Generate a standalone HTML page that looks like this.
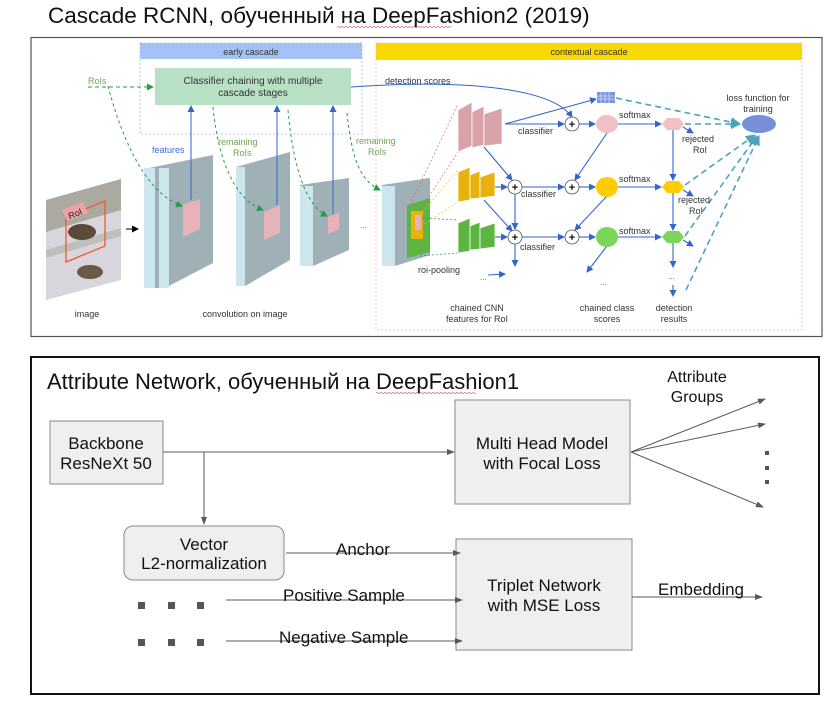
<!DOCTYPE html>
<html><head><meta charset="utf-8"><style>
html,body{margin:0;padding:0;background:#fff;}
svg{display:block;font-family:"Liberation Sans","Noto Sans CJK SC",sans-serif;}
</style></head><body>
<svg width="838" height="704" viewBox="0 0 838 704" xmlns="http://www.w3.org/2000/svg">
<defs>
<marker id="ag" markerWidth="8" markerHeight="8" refX="7" refY="4" orient="auto" markerUnits="userSpaceOnUse"><path d="M0,1 L8,4 L0,7 z" fill="#595959"/></marker>
<marker id="ab" markerWidth="7" markerHeight="7" refX="6" refY="3.5" orient="auto" markerUnits="userSpaceOnUse"><path d="M0,0 L7,3.5 L0,7 z" fill="#3366cc"/></marker>
<marker id="agr" markerWidth="7" markerHeight="7" refX="6" refY="3.5" orient="auto" markerUnits="userSpaceOnUse"><path d="M0,0 L7,3.5 L0,7 z" fill="#2a9a4a"/></marker>
<marker id="at" markerWidth="10" markerHeight="10" refX="9" refY="5" orient="auto" markerUnits="userSpaceOnUse"><path d="M0,0 L10,5 L0,10 z" fill="#4aa3c0"/></marker>
<marker id="ak" markerWidth="7" markerHeight="7" refX="6" refY="3.5" orient="auto" markerUnits="userSpaceOnUse"><path d="M0,0 L7,3.5 L0,7 z" fill="#000"/></marker>
</defs>

<text x="48" y="23" font-size="22.5" fill="#111">Cascade RCNN, обученный на DeepFashion2 (2019)</text>
<path d="M337,27 q1,-1 2,0 t2,0 t2,0 t2,0 t2,0 t2,0 t2,0 t2,0 t2,0 t2,0 t2,0 t2,0 t2,0 t2,0 t2,0 t2,0 t2,0 t2,0 t2,0 t2,0 t2,0 t2,0 t2,0 t2,0 t2,0 t2,0 t2,0 t2,0 t2,0 t2,0 t2,0 t2,0 t2,0 t2,0 t2,0 t2,0 t2,0 t2,0 t2,0 t2,0 t2,0 t2,0 t2,0 t2,0 t2,0 t2,0 t2,0 t2,0 t2,0 t2,0 t2,0 t2,0 t2,0 t2,0 t2,0 t2,0 t2,0" fill="none" stroke="#e06666" stroke-width="0.6"/>

<rect x="31" y="37.5" width="791" height="299" fill="#fff" stroke="#555" stroke-width="1.2"/>

<rect x="140" y="43" width="222" height="16" fill="#a4c2f4"/>
<rect x="140" y="43" width="222" height="91" fill="none" stroke="#a4b4f0" stroke-dasharray="2,2" stroke-width="0.8"/>
<text x="251" y="55" font-size="9" text-anchor="middle" fill="#333">early cascade</text>
<rect x="155" y="68" width="196" height="37" fill="#b8e0c4"/>
<text x="253" y="84" font-size="10" text-anchor="middle" fill="#333">Classifier chaining with multiple</text>
<text x="253" y="96" font-size="10" text-anchor="middle" fill="#333">cascade stages</text>

<rect x="376" y="43" width="426" height="17" fill="#f9d900"/>
<rect x="376" y="43" width="426" height="287" fill="none" stroke="#f4b9a0" stroke-dasharray="2,2" stroke-width="0.8"/>
<text x="589" y="55" font-size="9" text-anchor="middle" fill="#333">contextual cascade</text>

<polygon points="46,200 121,179 121,280 46,300" fill="#d8d6dc"/>
<polygon points="46,200 121,179 121,210 46,232" fill="#8f8c78" opacity="0.6"/>
<polygon points="46,250 121,228 121,236 46,258" fill="#9a9a88" opacity="0.4"/>
<ellipse cx="82" cy="232" rx="14" ry="8" fill="#5a4a38"/>
<ellipse cx="90" cy="272" rx="13" ry="7" fill="#6a5a48"/>
<polygon points="66,217 105,201 105,246 66,262" fill="none" stroke="#f05a28" stroke-width="1.3"/>
<polygon points="62,210 83,202 88,213 67,221" fill="#f0a0a8"/>
<text x="68" y="218" font-size="9" fill="#222" transform="rotate(-22 72 214)">RoI</text>
<text x="87" y="317" font-size="9" text-anchor="middle" fill="#333">image</text>
<line x1="126" y1="229" x2="138" y2="229" stroke="#000" stroke-width="1" marker-end="url(#ak)"/>

<polygon points="149,168 213,155 213,263 165,288 149,288" fill="#9fb0b6"/>
<rect x="144" y="168" width="11" height="120" fill="#cde5ec"/>
<rect x="159" y="168" width="10" height="120" fill="#cde5ec"/>
<polygon points="183,205 200,199 200,229 183,237" fill="#e8b3b8"/>
<polygon points="236,167 290,152 290,260 245,286 236,286" fill="#9fb0b6"/>
<rect x="236" y="167" width="9" height="119" fill="#cde5ec"/>
<polygon points="264,212 280,205 280,233 264,240" fill="#e8b3b8"/>
<polygon points="300,185 349,178 349,250 313,266 300,266" fill="#9fb0b6"/>
<rect x="300" y="186" width="13" height="80" fill="#cde5ec"/>
<polygon points="328,217 339,213 339,229 328,234" fill="#e8b3b8"/>
<text x="360" y="228" font-size="8" fill="#555">...</text>
<text x="245" y="317" font-size="9" text-anchor="middle" fill="#333">convolution on image</text>

<line x1="191" y1="200" x2="191" y2="106" stroke="#3366cc" stroke-width="1" marker-end="url(#ab)"/>
<line x1="277" y1="205" x2="277" y2="106" stroke="#3366cc" stroke-width="1" marker-end="url(#ab)"/>
<line x1="333" y1="214" x2="333" y2="106" stroke="#3366cc" stroke-width="1" marker-end="url(#ab)"/>
<text x="152" y="153" font-size="9" fill="#3b6fd0">features</text>

<text x="88" y="84" font-size="9" fill="#6aa84f">RoIs</text>
<line x1="88" y1="87" x2="153" y2="87" stroke="#2a9a4a" stroke-dasharray="4,3" marker-end="url(#agr)"/>
<path d="M108,86 C125,150 150,195 182,206" fill="none" stroke="#2a9a4a" stroke-dasharray="3,3" marker-end="url(#agr)"/>
<path d="M213,107 C218,160 235,200 263,210" fill="none" stroke="#2a9a4a" stroke-dasharray="3,3" marker-end="url(#agr)"/>
<path d="M288,110 C293,165 305,205 327,216" fill="none" stroke="#2a9a4a" stroke-dasharray="3,3" marker-end="url(#agr)"/>
<path d="M347,113 C352,160 360,180 380,190" fill="none" stroke="#2a9a4a" stroke-dasharray="3,3" marker-end="url(#agr)"/>
<text x="218" y="145" font-size="9" fill="#6aa84f">remaining</text>
<text x="233" y="156" font-size="9" fill="#6aa84f">RoIs</text>
<text x="356" y="144" font-size="9" fill="#6aa84f">remaining</text>
<text x="368" y="155" font-size="9" fill="#6aa84f">RoIs</text>

<polygon points="382,185 430,178 430,255 395,266 382,266" fill="#9fb0b6"/>
<rect x="382" y="186" width="13" height="80" fill="#cde5ec"/>
<polygon points="407,205 430,198 430,252 407,258" fill="#5cb541"/>
<rect x="411" y="211" width="12" height="28" fill="#e8b20e"/>
<rect x="415" y="215" width="6" height="15" fill="#e8b3b8"/>
<line x1="410" y1="205" x2="458" y2="104" stroke="#e06666" stroke-dasharray="2,2" stroke-width="0.7"/>
<line x1="420" y1="210" x2="458" y2="152" stroke="#e06666" stroke-dasharray="2,2" stroke-width="0.7"/>
<line x1="420" y1="215" x2="458" y2="170" stroke="#e0c040" stroke-dasharray="2,2" stroke-width="0.7"/>
<line x1="418" y1="228" x2="458" y2="202" stroke="#e0c040" stroke-dasharray="2,2" stroke-width="0.7"/>
<line x1="422" y1="218" x2="458" y2="220" stroke="#2a9a4a" stroke-dasharray="2,2" stroke-width="0.7"/>
<line x1="420" y1="256" x2="458" y2="253" stroke="#2a9a4a" stroke-dasharray="2,2" stroke-width="0.7"/>
<text x="418" y="273" font-size="9" fill="#333">roi-pooling</text>
<text x="480" y="280" font-size="8" fill="#555">...</text>
<line x1="488" y1="275" x2="505" y2="274" stroke="#3366cc" marker-end="url(#ab)"/>

<path d="M351,87 C450,80 550,85 572,117" fill="none" stroke="#3366cc" stroke-width="1" marker-end="url(#ab)"/>
<text x="385" y="84" font-size="9" fill="#333">detection scores</text>

<g fill="#d9a2a8" stroke="#fff" stroke-width="0.8">
<polygon points="458,110 472,102 472,146 458,152"/>
<polygon points="472,112 484,106 484,145 472,148"/>
<polygon points="484,114 502,108 502,144 484,146"/>
</g>
<g fill="#e8b20e" stroke="#fff" stroke-width="0.8">
<polygon points="458,172 470,167 470,200 458,202"/>
<polygon points="470,175 480,171 480,198 470,199"/>
<polygon points="480,177 495,172 495,196 480,198"/>
</g>
<g fill="#5cb541" stroke="#fff" stroke-width="0.8">
<polygon points="458,223 470,218 470,251 458,253"/>
<polygon points="470,226 480,222 480,249 470,250"/>
<polygon points="480,228 495,223 495,247 480,249"/>
</g>

<g stroke="#3366cc" stroke-width="1.1" fill="none" marker-end="url(#ab)">
<line x1="505" y1="124" x2="564" y2="124"/>
<line x1="505" y1="124" x2="596" y2="99"/>
<line x1="579" y1="124" x2="595" y2="124"/>
<line x1="618" y1="124" x2="661" y2="124"/>
<line x1="484" y1="147" x2="512" y2="180"/>
<line x1="495" y1="187" x2="507" y2="187"/>
<line x1="522" y1="187" x2="564" y2="187"/>
<line x1="579" y1="187" x2="595" y2="187"/>
<line x1="618" y1="187" x2="661" y2="187"/>
<line x1="607" y1="133" x2="575" y2="180"/>
<line x1="484" y1="200" x2="512" y2="231"/>
<line x1="515" y1="194" x2="515" y2="229"/>
<line x1="495" y1="237" x2="507" y2="237"/>
<line x1="522" y1="237" x2="564" y2="237"/>
<line x1="579" y1="237" x2="595" y2="237"/>
<line x1="618" y1="237" x2="661" y2="237"/>
<line x1="607" y1="196" x2="575" y2="230"/>
<line x1="515" y1="244" x2="515" y2="266"/>
<line x1="607" y1="246" x2="587" y2="272"/>
<line x1="673" y1="130" x2="673" y2="180"/>
<line x1="673" y1="193" x2="673" y2="230"/>
<line x1="673" y1="243" x2="673" y2="267"/>
<line x1="673" y1="285" x2="673" y2="296"/>
<line x1="683" y1="127" x2="693" y2="133"/>
<line x1="683" y1="190" x2="693" y2="196"/>
<line x1="683" y1="240" x2="693" y2="246"/>
</g>
<text x="600" y="285" font-size="8" fill="#555">...</text>
<text x="668" y="279" font-size="8" fill="#555">...</text>

<g fill="#fff" stroke="#555" stroke-width="0.8">
<circle cx="572" cy="124" r="7"/><circle cx="515" cy="187" r="7"/><circle cx="572" cy="187" r="7"/>
<circle cx="515" cy="237" r="7"/><circle cx="572" cy="237" r="7"/>
</g>
<g font-size="11" font-weight="bold" text-anchor="middle" fill="#111">
<text x="572" y="128">+</text><text x="515" y="191">+</text><text x="572" y="191">+</text>
<text x="515" y="241">+</text><text x="572" y="241">+</text>
</g>
<ellipse cx="607" cy="124" rx="11" ry="9" fill="#f0c0c4"/>
<ellipse cx="607" cy="187" rx="11" ry="10" fill="#ffcc00"/>
<ellipse cx="607" cy="237" rx="11" ry="10" fill="#7bd558"/>
<polygon points="662,124 667,118 679,118 684,124 679,130 667,130" fill="#f0c0c4"/>
<polygon points="662,187 667,181 679,181 684,187 679,193 667,193" fill="#ffcc00"/>
<polygon points="662,237 667,231 679,231 684,237 679,243 667,243" fill="#7bd558"/>
<rect x="597" y="92" width="18" height="11" fill="#7b96e0"/>
<g stroke="#fff" stroke-width="0.5"><line x1="597" y1="96" x2="615" y2="96"/><line x1="597" y1="99" x2="615" y2="99"/><line x1="601" y1="92" x2="601" y2="103"/><line x1="605" y1="92" x2="605" y2="103"/><line x1="609" y1="92" x2="609" y2="103"/></g>
<ellipse cx="759" cy="124" rx="17" ry="9" fill="#7590d8"/>

<g stroke="#4aa3c0" stroke-width="1.6" stroke-dasharray="6,4" fill="none" marker-end="url(#at)">
<line x1="616" y1="98" x2="740" y2="124"/>
<line x1="685" y1="124" x2="740" y2="124"/>
<line x1="685" y1="185" x2="755" y2="135"/>
<line x1="685" y1="236" x2="757" y2="136"/>
<line x1="686" y1="290" x2="759" y2="136"/>
</g>

<g font-size="9" fill="#333">
<text x="518" y="134">classifier</text>
<text x="521" y="197">classifier</text>
<text x="520" y="250">classifier</text>
<text x="619" y="118">softmax</text>
<text x="619" y="182">softmax</text>
<text x="619" y="234">softmax</text>
<text x="682" y="142">rejected</text>
<text x="693" y="153">RoI</text>
<text x="678" y="203">rejected</text>
<text x="689" y="214">RoI</text>
<text x="758" y="101" text-anchor="middle">loss function for</text>
<text x="758" y="112" text-anchor="middle">training</text>
<text x="477" y="311" text-anchor="middle">chained CNN</text>
<text x="477" y="322" text-anchor="middle">features for RoI</text>
<text x="607" y="311" text-anchor="middle">chained class</text>
<text x="607" y="322" text-anchor="middle">scores</text>
<text x="674" y="311" text-anchor="middle">detection</text>
<text x="674" y="322" text-anchor="middle">results</text>
</g>

<rect x="31" y="357" width="788" height="337" fill="#fff" stroke="#111" stroke-width="2"/>
<text x="47" y="389" font-size="22" fill="#111">Attribute Network, обученный на DeepFashion1</text>
<path d="M376,393 q1,-1 2,0 t2,0 t2,0 t2,0 t2,0 t2,0 t2,0 t2,0 t2,0 t2,0 t2,0 t2,0 t2,0 t2,0 t2,0 t2,0 t2,0 t2,0 t2,0 t2,0 t2,0 t2,0 t2,0 t2,0 t2,0 t2,0 t2,0 t2,0 t2,0 t2,0 t2,0 t2,0 t2,0 t2,0 t2,0 t2,0 t2,0 t2,0 t2,0 t2,0 t2,0 t2,0 t2,0 t2,0 t2,0 t2,0 t2,0 t2,0 t2,0 t2,0" fill="none" stroke="#e06666" stroke-width="0.6"/>

<rect x="50" y="421" width="113" height="63" fill="#efefef" stroke="#888" stroke-width="1"/>
<text x="106" y="449" font-size="17" text-anchor="middle" fill="#111">Backbone</text>
<text x="106" y="469" font-size="17" text-anchor="middle" fill="#111">ResNeXt 50</text>

<rect x="455" y="400" width="175" height="104" fill="#efefef" stroke="#888" stroke-width="1"/>
<text x="542" y="449" font-size="17" text-anchor="middle" fill="#111">Multi Head Model</text>
<text x="542" y="469" font-size="17" text-anchor="middle" fill="#111">with Focal Loss</text>

<rect x="124" y="526" width="160" height="54" rx="9" fill="#efefef" stroke="#888" stroke-width="1"/>
<text x="204" y="550" font-size="17" text-anchor="middle" fill="#111">Vector</text>
<text x="204" y="569" font-size="17" text-anchor="middle" fill="#111">L2-normalization</text>

<rect x="456" y="539" width="176" height="111" fill="#efefef" stroke="#888" stroke-width="1"/>
<text x="544" y="591" font-size="17" text-anchor="middle" fill="#111">Triplet Network</text>
<text x="544" y="611" font-size="17" text-anchor="middle" fill="#111">with MSE Loss</text>

<g stroke="#595959" stroke-width="1" fill="none" marker-end="url(#ag)">
<line x1="163" y1="452" x2="454" y2="452"/>
<line x1="204" y1="452" x2="204" y2="524"/>
<line x1="286" y1="553" x2="460" y2="553"/>
<line x1="226" y1="600" x2="462" y2="600"/>
<line x1="226" y1="641" x2="462" y2="641"/>
<line x1="632" y1="597" x2="762" y2="597"/>
<line x1="631" y1="452" x2="765" y2="399"/>
<line x1="631" y1="452" x2="765" y2="424"/>
<line x1="631" y1="452" x2="763" y2="507"/>
</g>
<g fill="#555">
<rect x="138" y="602" width="7" height="7"/><rect x="168" y="602" width="7" height="7"/><rect x="197" y="602" width="7" height="7"/>
<rect x="138" y="639" width="7" height="7"/><rect x="168" y="639" width="7" height="7"/><rect x="197" y="639" width="7" height="7"/>
<rect x="765" y="451" width="4" height="4"/><rect x="765" y="466" width="4" height="4"/><rect x="765" y="480" width="4" height="4"/>
</g>
<g font-size="17" fill="#111">
<text x="336" y="555">Anchor</text>
<text x="283" y="601">Positive Sample</text>
<text x="279" y="643">Negative Sample</text>
<text x="658" y="595">Embedding</text>
<text x="697" y="382" text-anchor="middle" font-size="16">Attribute</text>
<text x="697" y="402" text-anchor="middle" font-size="16">Groups</text>
</g>
</svg>
</body></html>
